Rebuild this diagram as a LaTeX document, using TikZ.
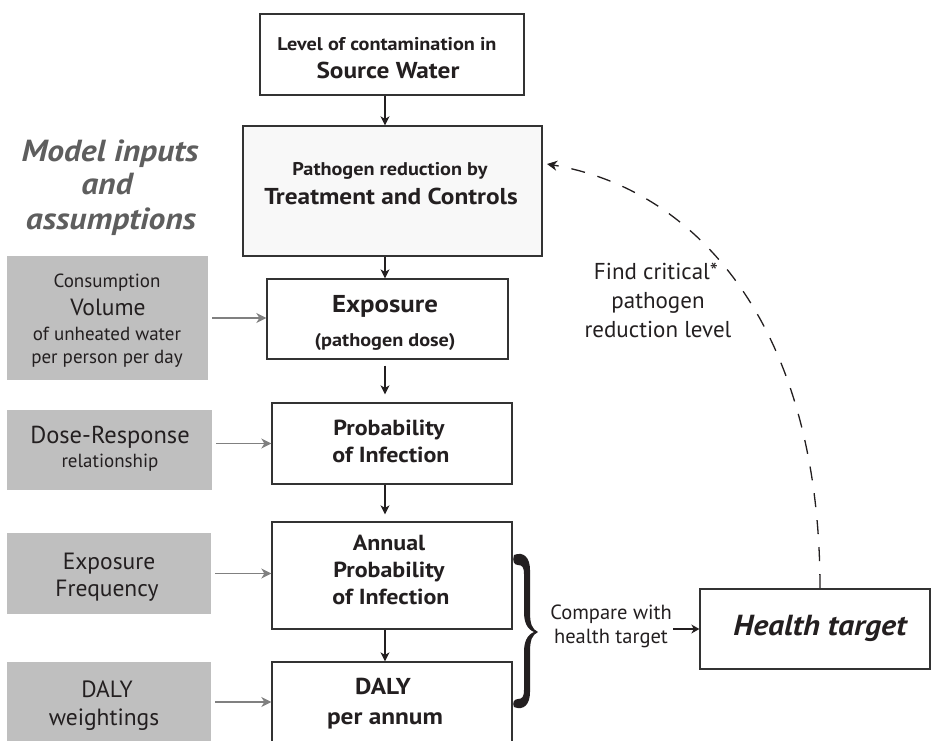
\documentclass[tikz,border=0pt]{standalone}
\usepackage{fontspec}
\setmainfont{PT Sans}[BoldFeatures={FakeStretch=1.1},BoldItalicFeatures={FakeStretch=1.1}]
\usetikzlibrary{arrows.meta}
\definecolor{ink}{HTML}{231F20}
\definecolor{boxline}{HTML}{333333}
\definecolor{boxgray}{HTML}{BFBFBF}
\definecolor{arrgray}{HTML}{808080}
\definecolor{titlegray}{HTML}{5E5E5E}
\definecolor{treatfill}{HTML}{F8F8F8}
\newcommand{\fsz}[1]{\fontsize{#1}{#1}\selectfont}
\begin{document}
\begin{tikzpicture}[x=1pt,y=-1pt,
  mainbox/.style={draw=boxline, line width=1.3pt, fill=white, inner sep=0pt},
  inbox/.style={fill=boxgray, inner sep=0pt},
  txt/.style={inner sep=0pt, anchor=mid, text=ink},
  bsmall/.style={txt, font=\bfseries\fsz{18.4}},
  bbig/.style={txt, font=\bfseries\fsz{23}},
  bmid/.style={txt, font=\bfseries\fsz{21.8}},
  rsmall/.style={txt, font=\fsz{19}},
  rbig/.style={txt, font=\fsz{23.5}},
  rmid/.style={txt, font=\fsz{23}},
  titletxt/.style={txt, text=titlegray, font=\bfseries\itshape\fsz{30.5}},
  flow/.style={draw=ink, line width=1.3pt, -{Stealth[length=9pt,width=9pt,inset=2.5pt]}},
  inflow/.style={draw=arrgray, line width=1.5pt, -{Stealth[length=10pt,width=10pt,inset=3pt]}},
]
\useasboundingbox (0,0) rectangle (932,740);
\clip (0,0) rectangle (932,740);

% main chain boxes
\node[mainbox, minimum width=264pt, minimum height=81pt] (src) at (392,54.5) {};
\node[mainbox, fill=treatfill, minimum width=299pt, minimum height=130pt] (treat) at (392.5,191) {};
\node[mainbox, minimum width=241pt, minimum height=80pt] (expo) at (387.5,319) {};
\node[mainbox, minimum width=240pt, minimum height=81pt] (prob) at (392,443.5) {};
\node[mainbox, minimum width=240pt, minimum height=107pt] (annual) at (392,575.5) {};
\node[mainbox, minimum width=240pt, minimum height=80pt] (daly) at (392,702) {};
\node[mainbox, minimum width=230pt, minimum height=80pt] (health) at (815,629) {};

% input boxes
\node[inbox, minimum width=201pt, minimum height=124pt] (vol) at (107.5,318) {};
\node[inbox, minimum width=205pt, minimum height=80pt] (dose) at (109.5,450) {};
\node[inbox, minimum width=204pt, minimum height=81pt] (freq) at (109,573.5) {};
\node[inbox, minimum width=204pt, minimum height=80pt] (dalyw) at (109,702) {};

% texts in main boxes
\node[bsmall] (srcA) at (387,48) {Level of contamination in};
\node[bbig] (srcB) at (388,76) {Source Water};
\node[bsmall] (treatA) at (390,173) {Pathogen reduction by};
\node[bbig] (treatB) at (391,202) {Treatment and Controls};
\node[txt, font=\bfseries\fsz{24.4}] (expoA) at (385,310) {Exposure};
\node[bsmall] (expoB) at (385,344) {(pathogen dose)};
\node[bmid] (probA) at (389,433) {Probability};
\node[bmid] (probB) at (391,460) {of Infection};
\node[bmid] (annA) at (389,548) {Annual};
\node[bmid] (annB) at (389,575) {Probability};
\node[bmid] (annC) at (391,602) {of Infection};
\node[bbig] (dalyA) at (383,692) {DALY};
\node[bbig] (dalyB) at (385,722) {per annum};
\node[txt, font=\bfseries\itshape\fsz{29}] (healthA) at (820,633) {Health target};

% texts in input boxes
\node[rsmall] (volA) at (107,285) {Consumption};
\node[rbig] (volB) at (108,313) {Volume};
\node[rsmall] (volC) at (107,338) {of unheated water};
\node[rsmall] (volD) at (107,361) {per person per day};
\node[txt, font=\fsz{24.5}] (doseA) at (110,441) {Dose-Response};
\node[rsmall] (doseB) at (110,465) {relationship};
\node[rbig] (freqA) at (109,567) {Exposure};
\node[rbig] (freqB) at (107,594) {Frequency};
\node[rbig] (dalywA) at (107,695) {DALY};
\node[rbig] (dalywB) at (104,723) {weightings};

% side titles
\node[titletxt] (titleA) at (110,159) {Model inputs};
\node[titletxt] (titleB) at (107,192) {and};
\node[titletxt] (titleC) at (111,227) {assumptions};

% right side texts
\node[rmid] (findA) at (656,277) {Find critical*};
\node[rmid] (findB) at (658,306) {pathogen};
\node[rmid] (findC) at (658,335) {reduction level};
\node[txt, font=\fsz{20.5}] (cmpA) at (611,617) {Compare with};
\node[txt, font=\fsz{20.5}] (cmpB) at (611,641) {health target};

% spine coordinate
\coordinate (spine) at (385,0);

% main flow arrows
\draw[flow] (src.south -| spine) -- (treat.north -| spine);
\draw[flow] (treat.south -| spine) -- (expo.north -| spine);
\draw[flow, shorten <=6pt, shorten >=8pt] (expo.south -| spine) -- (prob.north -| spine);
\draw[flow, shorten >=7pt] (prob.south -| spine) -- (annual.north -| spine);
\draw[flow] (annual.south -| spine) -- (daly.north -| spine);

% input arrows
\draw[inflow, shorten <=4pt] (vol.east) -- (vol.east -| expo.west);
\draw[inflow, shorten <=4pt] (prob.west -| dose.east) -- (prob.west);
\draw[inflow, shorten <=4pt] (freq.east) -- (freq.east -| annual.west);
\draw[inflow, shorten <=4pt] (dalyw.east) -- (dalyw.east -| daly.west);

% brace (typographic shape)
\fill[ink] (514,555) .. controls (524,551) and (530,558) .. (530,570)
  -- (530,612) .. controls (530,624) and (532,629) .. (538,632)
  .. controls (532,635) and (530,640) .. (530,652)
  -- (530,692) .. controls (530,704) and (524,711) .. (514,707)
  .. controls (512,703) and (514,699) .. (518,699)
  .. controls (522,699) and (524,697) .. (524,690)
  -- (524,652) .. controls (524,642) and (527,635) .. (534,632)
  .. controls (527,629) and (524,622) .. (524,612)
  -- (524,574) .. controls (524,567) and (522,565) .. (518,565)
  .. controls (514,565) and (512,561) .. (514,555) -- cycle;

% compare arrow
\draw[draw=ink, line width=1.3pt, -{Stealth[length=8pt,width=9pt,inset=2.5pt]}, shorten <=5pt] (cmpB.east |- health.west) -- (health.west);

% feedback dashed curve
\coordinate (fbStart) at (820,588);
\coordinate (fbEnd) at (547,164);
\draw[draw=ink, line width=1.3pt, dash pattern=on 14pt off 13pt, -{Stealth[length=10pt,width=10pt,inset=3pt]}]
  (fbStart) .. controls (820,330) and (700,190) .. (fbEnd);
\end{tikzpicture}
\end{document}
